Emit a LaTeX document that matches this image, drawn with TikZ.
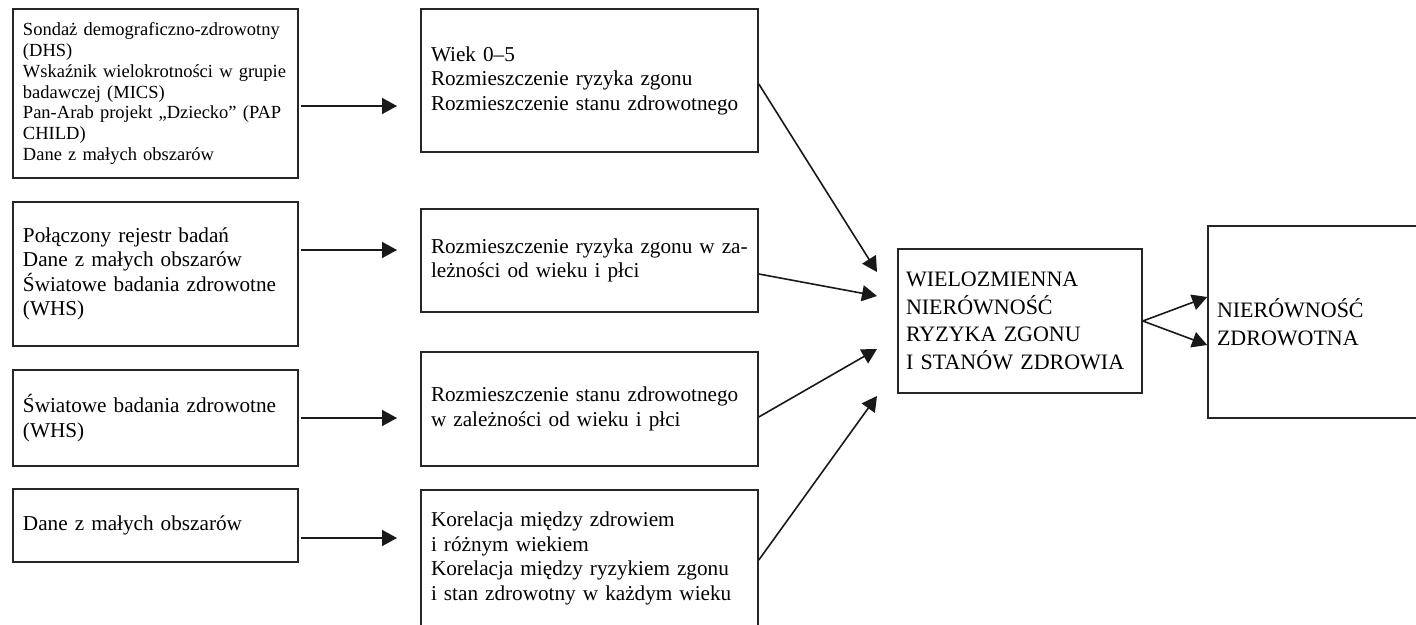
\documentclass[tikz,border=0pt]{standalone}
\usepackage{fontspec}
\setmainfont{Liberation Serif}
\usetikzlibrary{arrows.meta}
\begin{document}
\begin{tikzpicture}[x=1pt,y=-1pt,
  box/.style={draw=black!85, line width=1.6pt, inner xsep=10pt, inner ysep=0pt, align=left, anchor=center},
  smalltxt/.style={font=\fontsize{18.5}{20.8}\selectfont},
  midtxt/.style={font=\fontsize{21.2}{24.5}\selectfont},
  bigtxt/.style={font=\fontsize{22}{27.5}\selectfont},
  arr/.style={draw=black!90, line width=1.6pt, -{Triangle[length=15pt,width=16pt]}}
]
\useasboundingbox (0,0) rectangle (1416,624);

% left column
\node[box, smalltxt, text width=265pt, minimum height=169pt] (L1) at (155.5,93.5)
 {Sondaż demograficzno-zdrowotny\\(DHS)\\Wskaźnik wielokrotności w grupie\\badawczej (MICS)\\Pan-Arab projekt „Dziecko” (PAP\\CHILD)\\Dane z małych obszarów};
\node[box, midtxt, text width=265pt, minimum height=144pt] (L2) at (155.5,274)
 {Połączony rejestr badań\\Dane z małych obszarów\\Światowe badania zdrowotne\\(WHS)};
\node[box, midtxt, text width=265pt, minimum height=96pt] (L3) at (155.5,418)
 {Światowe badania zdrowotne\\(WHS)};
\node[box, midtxt, text width=265pt, minimum height=73pt] (L4) at (155.5,525.5)
 {Dane z małych obszarów};

% middle column
\node[box, midtxt, text width=317pt, minimum height=143pt] (M1) at (589.5,80.5)
 {Wiek 0–5\\Rozmieszczenie ryzyka zgonu\\Rozmieszczenie stanu zdrowotnego};
\node[box, midtxt, text width=317pt, minimum height=103pt] (M2) at (589.5,260.5)
 {Rozmieszczenie ryzyka zgonu w za-\\leżności od wieku i płci};
\node[box, midtxt, text width=317pt, minimum height=114pt] (M3) at (589.5,409)
 {Rozmieszczenie stanu zdrowotnego\\w zależności od wieku i płci};
\node[box, midtxt, text width=317pt, minimum height=137pt] (M4) at (589.5,558.5)
 {Korelacja między zdrowiem\\i różnym wiekiem\\Korelacja między ryzykiem zgonu\\i stan zdrowotny w każdym wieku};

% right
\node[box, bigtxt, inner xsep=8pt, text width=228pt, minimum height=144pt] (B) at (1020,321)
 {WIELOZMIENNA\\NIERÓWNOŚĆ\\RYZYKA ZGONU\\I STANÓW ZDROWIA};
\node[box, bigtxt, inner xsep=9pt, text width=198pt, minimum height=192pt] (F) at (1316,322)
 {NIERÓWNOŚĆ\\ZDROWOTNA};

% arrow end points
\coordinate (s1) at (301,106);  \coordinate (e1) at (397,106);
\coordinate (s2) at (301,250);  \coordinate (e2) at (397,250);
\coordinate (s3) at (301,418);  \coordinate (e3) at (397,418);
\coordinate (s4) at (301,538);  \coordinate (e4) at (397,538);
\coordinate (t1) at (877,272);
\coordinate (t2) at (877,296);
\coordinate (t3) at (877,349);
\coordinate (t4) at (877,396);

\draw[arr] (s1) -- (e1);
\draw[arr] (s2) -- (e2);
\draw[arr] (s3) -- (e3);
\draw[arr] (s4) -- (e4);

\draw[arr] (M1.east |- 0,84) -- (t1);
\draw[arr] (M2.east |- 0,274) -- (t2);
\draw[arr] (M3.east |- 0,417) -- (t3);
\draw[arr] (M4.east |- 0,560) -- (t4);

\draw[arr] (B.east) -- (F.west |- 0,297);
\draw[arr] (B.east) -- (F.west |- 0,345);
\end{tikzpicture}
\end{document}
